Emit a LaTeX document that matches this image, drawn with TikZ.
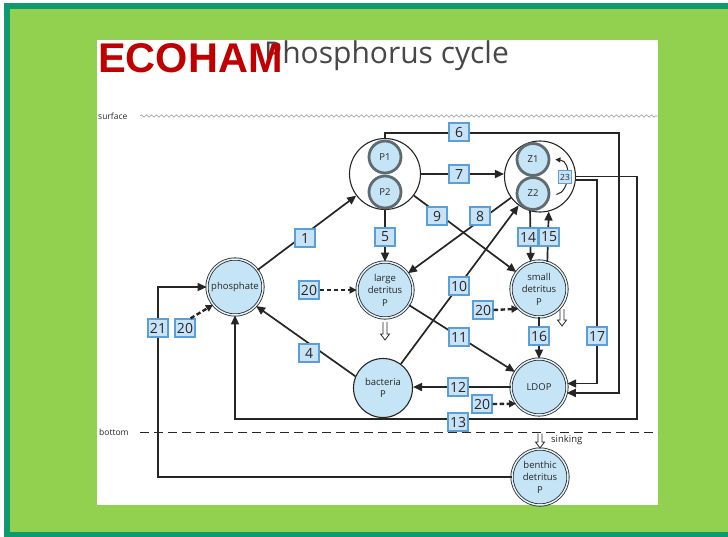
\documentclass[tikz,border=0pt]{standalone}
\usepackage{fontspec}
\setmainfont{Open Sans}
\newfontfamily\titlefont{Liberation Sans}
\usetikzlibrary{arrows.meta,decorations.pathmorphing}
\definecolor{framegreen}{HTML}{0E9A6E}
\definecolor{bggreen}{HTML}{92D050}
\definecolor{nodefill}{HTML}{C5E4F6}
\definecolor{boxfill}{HTML}{C8E3F8}
\definecolor{boxdraw}{HTML}{5B9FDA}
\definecolor{ink}{HTML}{262626}
\definecolor{ringgray}{HTML}{5F6B70}
\definecolor{ecored}{HTML}{C00000}
\newcommand\hollowdown[3]{%
  \draw[ink,line width=0.8pt,fill=white] ({#1-2},#2) -- ({#1-2},{#3-6}) -- ({#1-4.5},{#3-6}) -- (#1,#3) -- ({#1+4.5},{#3-6}) -- ({#1+2},{#3-6}) -- ({#1+2},#2);}
\begin{document}
\begin{tikzpicture}[x=1pt,y=-1pt,
  arr/.style={draw=ink,line width=1.7pt,-{Triangle[length=9pt,width=8pt]}},
  darr/.style={draw=ink,line width=2.4pt,dash pattern=on 4.5pt off 2.5pt,-{Triangle[length=7pt,width=7pt]}},
  grp/.style={circle,draw=ink,line width=1.1pt,fill=white,minimum size=71pt,inner sep=0pt},
  sub/.style={circle,draw=ringgray,line width=2.8pt,fill=nodefill,minimum size=32pt,inner sep=0pt,text=ink,font=\fontsize{9.5}{10}\selectfont},
  dbl/.style={circle,draw=ink,line width=0.8pt,double=nodefill!50!white,double distance=1.5pt,fill=nodefill,minimum size=56pt,inner sep=0pt,align=center,text=ink,font=\fontsize{9.5}{12.5}\selectfont},
  sgl/.style={circle,draw=ink,line width=1.1pt,fill=nodefill,minimum size=59pt,inner sep=0pt,align=center,text=ink,font=\fontsize{9.5}{12.5}\selectfont},
  lab/.style={draw=boxdraw,fill=boxfill,line width=1.3pt,minimum width=20pt,minimum height=18pt,inner sep=0pt,text=ink,font=\fontsize{14}{14}\selectfont},
  smalllab/.style={draw=boxdraw,fill=boxfill,line width=1pt,minimum width=13pt,minimum height=13pt,inner sep=0pt,text=ink,font=\fontsize{8.5}{9}\selectfont},
  txt/.style={inner sep=0pt,text=ink}
]
\path[use as bounding box] (0,0) rectangle (728,536);
% frame
\fill[white] (0,0) rectangle (728,536);
\fill[framegreen] (4,3) rectangle (740,540);
\fill[bggreen] (10,8.5) rectangle (740,531.5);
\fill[white] (97,40) rectangle (658,505);

% title
\node[txt,anchor=base west,text=ink!85,font=\fontsize{30}{30}\selectfont] (title2) at (264,63) {Phosphorus cycle};
\node[txt,anchor=base west,text=ecored,font=\titlefont\bfseries\fontsize{41.5}{41.5}\selectfont] (title1) at (98,72.5) {ECOHAM};

% surface and bottom
\node[txt,anchor=west,font=\fontsize{8.5}{9}\selectfont] (surf) at (98,116) {surface};
\coordinate (s1) at (140,116);
\coordinate (s2) at (658,116);
\draw[gray!75,line width=0.6pt,decorate,decoration={snake,amplitude=1.2pt,segment length=5pt}] (s1) -- (s2);
\node[txt,anchor=west,font=\fontsize{8.5}{9}\selectfont] (bot) at (99,432.5) {bottom};
\coordinate (b1) at (140,432.5);
\coordinate (b2) at (658,432.5);
\draw[ink,line width=1.5pt,dash pattern=on 9pt off 5pt] (b1) -- (b2);

% group circles
\node[grp] (Pg) at (385,174) {};
\node[grp] (Zg) at (540,176.5) {};
\node[sub] (P1) at (385,157) {P1};
\node[sub] (P2) at (385,192) {P2};
\node[sub] (Z1) at (533,159.5) {Z1};
\node[sub] (Z2) at (533,193.5) {Z2};

% pools
\node[dbl] (phos) at (235,287) {phosphate};
\node[dbl] (ld) at (385,290) {large\\detritus\\P};
\node[dbl] (sd) at (539,289) {small\\detritus\\P};
\node[sgl] (bac) at (383,388) {bacteria\\P};
\node[dbl] (ldop) at (539,387) {LDOP};
\node[dbl] (benth) at (540,477) {benthic\\detritus\\P};

% helper coordinates
\coordinate (v6) at (619,133);
\coordinate (v17) at (597,300);
\coordinate (v13) at (637,419);
\coordinate (v21) at (158,400);

% connectors
\draw[arr] (phos) -- (Pg);
\draw[arr] (Pg.north) |- (v6) -- (v6 |- ldop.-12) -- (ldop.-12);
\draw[arr] (Pg.east) -- (Pg.east -| Zg.west);
\draw[arr] (Pg) -- (sd);
\draw[arr] (Zg) -- (ld);
\draw[arr] (Pg.south) -- (ld.north);
\draw[arr] (Zg.-106) -- (sd.107);
\draw[arr] (sd.73) -- (Zg.-76);
\draw[arr] (bac) -- (Zg);
\draw[arr] (ld) -- (ldop);
\draw[arr] (sd.south) -- (ldop.north);
\draw[arr] (Zg.-6) -| (v17 |- ldop.7) -- (ldop.7);
\draw[arr] (ldop.west) -- (ldop.west -| bac.east);
\draw[arr] (bac.157) -- (phos.-42);
\draw[arr] (Zg.east) -| (v13) -| (phos.south);
\draw[arr] (benth.west) -| (v21) |- (phos.west);
\draw[draw=ink,line width=1pt,-{Triangle[length=5pt,width=5pt]}] ([shift={(6,1)}]Z2.east) .. controls (570,192) and (572,161) .. ([xshift=5pt]Z1.east);

% hollow sinking arrows
\hollowdown{385}{322}{340}
\hollowdown{562}{309}{326}
\hollowdown{540}{433.5}{448}
\node[txt,anchor=west,font=\fontsize{9.5}{10}\selectfont] (sink) at (551,440) {sinking};

% labels
\node[lab] (l1) at (305,238) {1};
\node[lab] (l5) at (385,237) {5};
\node[lab] (l9) at (437,216) {9};
\node[lab] (l8) at (480,216) {8};
\node[lab] (l6) at (459,132) {6};
\node[lab] (l7) at (459,174) {7};
\node[smalllab] (l23) at (565,177) {23};
\node[lab] (l14) at (528,237) {14};
\node[lab] (l15) at (549,237) {15};
\node[lab] (l10) at (459,286) {10};
\node[lab] (l20a) at (309,290) {20};
\node[lab] (l20b) at (483,310) {20};
\node[lab] (l16) at (539,336) {16};
\node[lab] (l17) at (597,336) {17};
\node[lab] (l11) at (459,337) {11};
\node[lab] (l4) at (309,353) {4};
\node[lab] (l12) at (458,387) {12};
\node[lab] (l20c) at (482,404) {20};
\node[lab] (l13) at (458,422) {13};
\node[lab] (l21) at (158,328) {21};
\node[lab] (l20d) at (185,328) {20};

% dashed input arrows
\draw[darr] (l20a.east) -- (ld.west);
\draw[darr] (l20b.east) -- (sd.-136);
\draw[darr] (l20c.east) -- (ldop.-144);
\draw[darr] (l20d.60) -- (phos.-141);
\end{tikzpicture}
\end{document}
